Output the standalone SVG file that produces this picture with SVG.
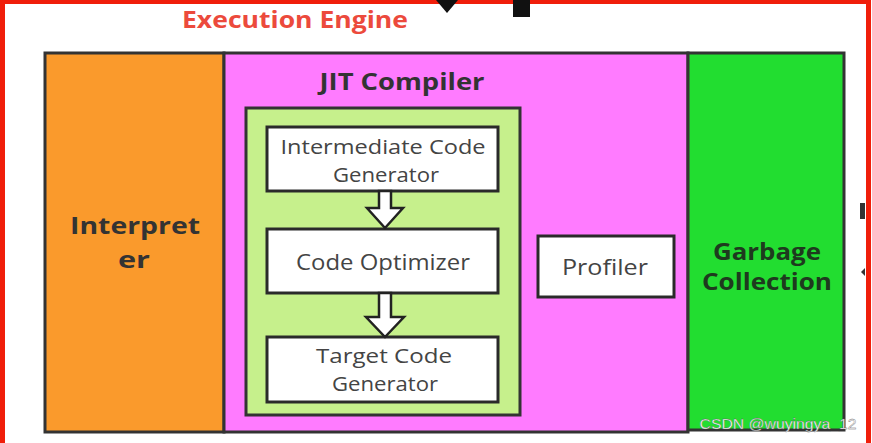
<svg xmlns="http://www.w3.org/2000/svg" width="872" height="443" viewBox="0 0 872 443">
<defs>
<style>
.box{stroke:#333;stroke-width:3}
.wbox{fill:#fff;stroke:#2a2a2a;stroke-width:3}
.t{font-family:"Open Sans","Liberation Sans",sans-serif;fill:#444;font-size:22px;text-anchor:middle}
.t2{font-family:"Open Sans","Liberation Sans",sans-serif;fill:#444;font-size:19.5px;text-anchor:middle}
.b{font-family:"Open Sans","Liberation Sans",sans-serif;font-weight:bold;fill:#333;font-size:24px;text-anchor:middle}
.arr{fill:#fff;stroke:#222;stroke-width:2.5;stroke-linejoin:miter}
</style>
</defs>
<rect x="0" y="0" width="872" height="443" fill="#fff"/>
<rect x="2.5" y="1.5" width="866" height="460" fill="none" stroke="#f01e0a" stroke-width="5"/>
<text x="295" y="28" font-family="Open Sans,Liberation Sans,sans-serif" font-weight="bold" font-size="23" fill="#ec4a3c" text-anchor="middle" textLength="226" lengthAdjust="spacingAndGlyphs">Execution Engine</text>
<polygon points="436,0 458,0 447,13" fill="#111"/>
<rect x="513" y="0" width="17" height="17" fill="#111"/>
<rect x="860" y="203" width="5" height="16" fill="#333"/>
<polygon points="865,268 861,272 865,276" fill="#333"/>
<g id="interpreter">
<rect class="box" x="45" y="53" width="179" height="379" fill="#fa9a2c"/>
<text class="b" x="135" y="234" textLength="130" lengthAdjust="spacingAndGlyphs">Interpret</text>
<text class="b" x="134" y="268" textLength="32" lengthAdjust="spacingAndGlyphs">er</text>
</g>
<g id="jit">
<rect class="box" x="224" y="53" width="464" height="379" fill="#ff7bff"/>
<text class="b" x="402" y="90" textLength="165" lengthAdjust="spacingAndGlyphs">JIT Compiler</text>
</g>
<g id="gc">
<rect class="box" x="688" y="53" width="156" height="377" fill="#22dd30"/>
<text class="b" x="767" y="260" style="fill:#1e3a1e" textLength="108" lengthAdjust="spacingAndGlyphs">Garbage</text>
<text class="b" x="767" y="290" style="fill:#1e3a1e" textLength="130" lengthAdjust="spacingAndGlyphs">Collection</text>
</g>
<g id="pipeline">
<rect class="box" x="246" y="108" width="274" height="307" fill="#c6f08c"/>
</g>
<g id="icg">
<rect class="wbox" x="267" y="127" width="231" height="64"/>
<text class="t2" x="383" y="154" textLength="205" lengthAdjust="spacingAndGlyphs">Intermediate Code</text>
<text class="t2" x="386" y="182" textLength="106" lengthAdjust="spacingAndGlyphs">Generator</text>
</g>
<g id="opt">
<rect class="wbox" x="267" y="229" width="231" height="64"/>
<text class="t" x="383" y="270" textLength="174" lengthAdjust="spacingAndGlyphs">Code Optimizer</text>
</g>
<g id="tcg">
<rect class="wbox" x="267" y="337" width="231" height="65"/>
<text class="t2" x="384" y="363" textLength="136" lengthAdjust="spacingAndGlyphs">Target Code</text>
<text class="t2" x="385" y="391" textLength="106" lengthAdjust="spacingAndGlyphs">Generator</text>
</g>
<g id="profiler">
<rect class="wbox" x="538" y="236" width="136" height="61"/>
<text class="t" x="605" y="275" textLength="86" lengthAdjust="spacingAndGlyphs">Profiler</text>
</g>
<g id="connectors">
<polygon class="arr" points="379,191 391,191 391,208 403,208 385,228 367,208 379,208"/>
<polygon class="arr" points="379,293 391,293 391,317 404,317 385,337 366,317 379,317"/>
</g>
<text x="778" y="429" font-family="Liberation Sans,sans-serif" font-size="15" fill="#fff" stroke="#555" stroke-width="0.3" text-anchor="middle" textLength="157" lengthAdjust="spacingAndGlyphs">CSDN @wuyingya_12</text>
</svg>
